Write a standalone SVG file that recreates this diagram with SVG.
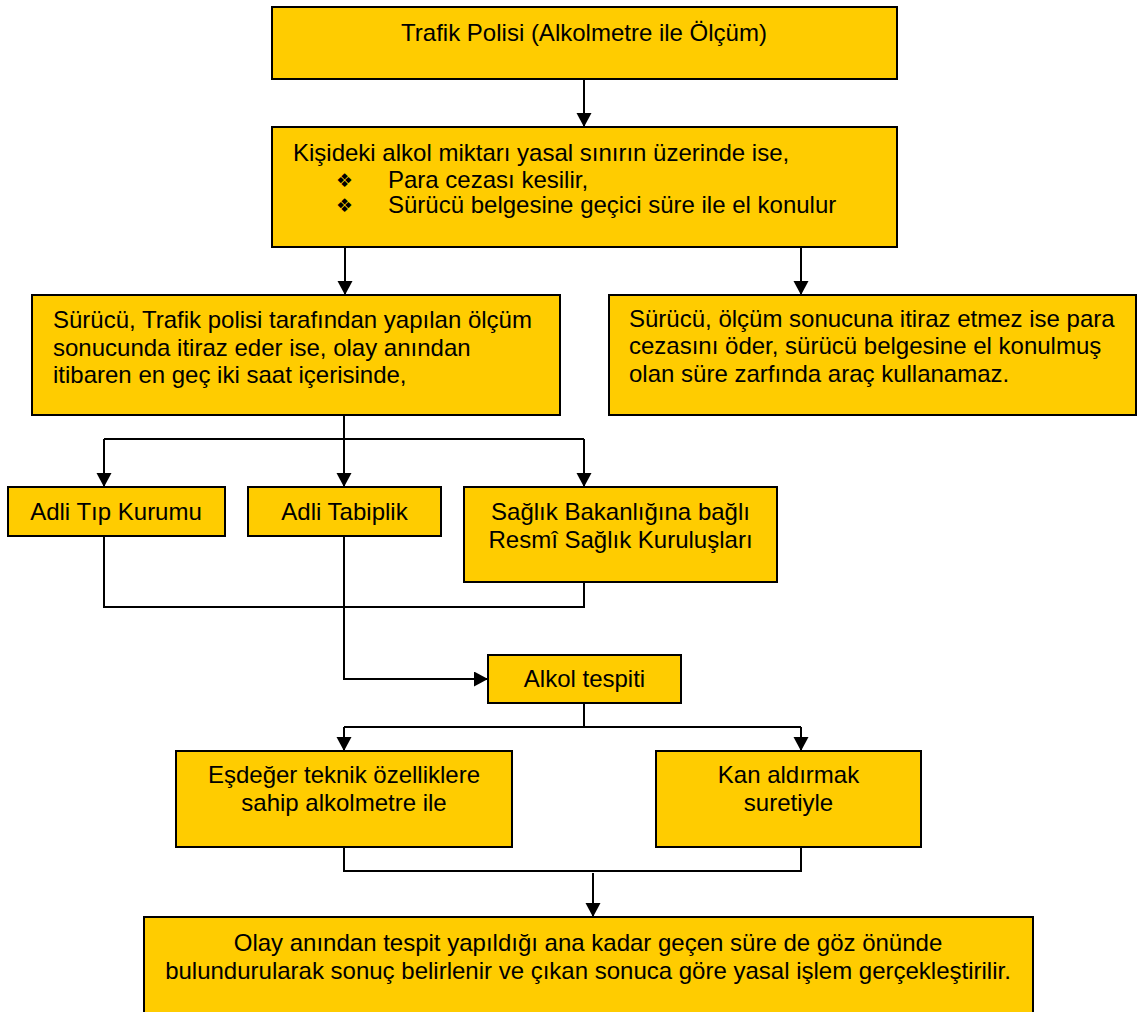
<svg xmlns="http://www.w3.org/2000/svg" width="1138" height="1012" viewBox="0 0 1138 1012">
<style>
.box{fill:#FFCC00;stroke:#000;stroke-width:2}
.t{font-family:"Liberation Sans",Arial,sans-serif;font-size:24px;fill:#000}
.c{text-anchor:middle}
.b{font-family:"DejaVu Sans",sans-serif;font-size:19px;fill:#000}
.ln{fill:none;stroke:#000;stroke-width:2}
</style>
<defs>
<marker id="ah" markerUnits="userSpaceOnUse" markerWidth="16" markerHeight="16" refX="14" refY="7.5" orient="auto">
<path d="M0,0 L14,7.5 L0,15 z" fill="#000"/>
</marker>
</defs>
<rect width="1138" height="1012" fill="#fff"/>
<g id="connectors">
<path class="ln" d="M584,79 V127" marker-end="url(#ah)"/>
<path class="ln" d="M345,247 V295" marker-end="url(#ah)"/>
<path class="ln" d="M801,247 V295" marker-end="url(#ah)"/>
<path class="ln" d="M344,415 V439 M104,439 H584"/>
<path class="ln" d="M104,439 V487" marker-end="url(#ah)"/>
<path class="ln" d="M344,439 V487" marker-end="url(#ah)"/>
<path class="ln" d="M584,439 V487" marker-end="url(#ah)"/>
<path class="ln" d="M104,536 V607 H584 V582"/>
<path class="ln" d="M344,536 V679 H488" marker-end="url(#ah)"/>
<path class="ln" d="M584,703 V727 M344,727 H801"/>
<path class="ln" d="M344,727 V751" marker-end="url(#ah)"/>
<path class="ln" d="M801,727 V751" marker-end="url(#ah)"/>
<path class="ln" d="M344,847 V871 H801 V847"/>
<path class="ln" d="M593,873 V917" marker-end="url(#ah)"/>
</g>
<g id="n1">
<rect class="box" x="272" y="7" width="625" height="72"/>
<text class="t c" x="584" y="41">Trafik Polisi (Alkolmetre ile Ölçüm)</text>
</g>
<g id="n2">
<rect class="box" x="272" y="127" width="625" height="120"/>
<text class="t" x="293" y="161">Kişideki alkol miktarı yasal sınırın üzerinde ise,</text>
<text class="b" x="336" y="187">❖</text>
<text class="t" x="388" y="188">Para cezası kesilir,</text>
<text class="b" x="336" y="212">❖</text>
<text class="t" x="388" y="213">Sürücü belgesine geçici süre ile el konulur</text>
</g>
<g id="n3">
<rect class="box" x="32" y="295" width="528" height="120"/>
<text class="t" x="53" y="328">Sürücü, Trafik polisi tarafından yapılan ölçüm</text>
<text class="t" x="53" y="356">sonucunda itiraz eder ise, olay anından</text>
<text class="t" x="53" y="383">itibaren en geç iki saat içerisinde,</text>
</g>
<g id="n4">
<rect class="box" x="609" y="295" width="527" height="120"/>
<text class="t" x="629" y="327">Sürücü, ölçüm sonucuna itiraz etmez ise para</text>
<text class="t" x="629" y="354">cezasını öder, sürücü belgesine el konulmuş</text>
<text class="t" x="629" y="382">olan süre zarfında araç kullanamaz.</text>
</g>
<g id="n5">
<rect class="box" x="8" y="487" width="217" height="49"/>
<text class="t c" x="116" y="520">Adli Tıp Kurumu</text>
</g>
<g id="n6">
<rect class="box" x="248" y="487" width="193" height="49"/>
<text class="t c" x="344.5" y="520">Adli Tabiplik</text>
</g>
<g id="n7">
<rect class="box" x="464" y="487" width="313" height="95"/>
<text class="t c" x="620.5" y="520">Sağlık Bakanlığına bağlı</text>
<text class="t c" x="620.5" y="548">Resmî Sağlık Kuruluşları</text>
</g>
<g id="n8">
<rect class="box" x="488" y="655" width="193" height="48"/>
<text class="t c" x="584.5" y="687">Alkol tespiti</text>
</g>
<g id="n9">
<rect class="box" x="176" y="751" width="336" height="96"/>
<text class="t c" x="344" y="783">Eşdeğer teknik özelliklere</text>
<text class="t c" x="344" y="811">sahip alkolmetre ile</text>
</g>
<g id="n10">
<rect class="box" x="656" y="751" width="265" height="96"/>
<text class="t c" x="788.5" y="783">Kan aldırmak</text>
<text class="t c" x="788.5" y="811">suretiyle</text>
</g>
<g id="n11">
<rect class="box" x="144" y="917" width="889" height="110"/>
<text class="t c" x="588" y="951">Olay anından tespit yapıldığı ana kadar geçen süre de göz önünde</text>
<text class="t c" x="588" y="979">bulundurularak sonuç belirlenir ve çıkan sonuca göre yasal işlem gerçekleştirilir.</text>
</g>
</svg>
